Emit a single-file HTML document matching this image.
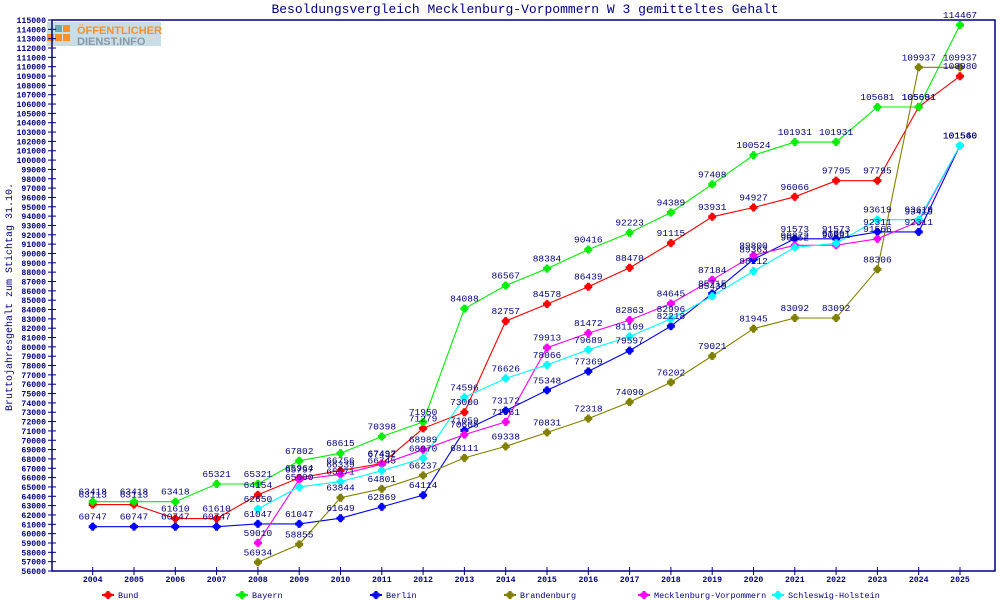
<!DOCTYPE html>
<html><head><meta charset="utf-8"><style>
body{margin:0;background:#fff;}
svg{display:block;font-family:"Liberation Mono",monospace;}
</style></head><body>
<svg id="chart" width="1000" height="600" viewBox="0 0 1000 600">
<text x="525" y="13" text-anchor="middle" font-size="13" fill="#000080">Besoldungsvergleich Mecklenburg-Vorpommern W 3 gemitteltes Gehalt</text>
<text transform="translate(12,297) rotate(-90)" text-anchor="middle" font-size="10" fill="#000080">Bruttojahresgehalt zum Stichtag 31.10.</text>
<g>
<rect x="47" y="22" width="114" height="24" fill="#c9dde6"/>
<rect x="55" y="25" width="7" height="7" fill="#6aa8b8"/><rect x="63" y="25" width="7" height="7" fill="#f7902a"/>
<rect x="47" y="34" width="7" height="7" fill="#f7902a"/><rect x="55" y="34" width="7" height="7" fill="#f7902a"/><rect x="63" y="34" width="7" height="7" fill="#f7902a"/>
<text x="77" y="34" font-family="Liberation Sans,sans-serif" font-weight="bold" font-size="11" fill="#f7902a">ÖFFENTLICHER</text>
<text x="77" y="45" font-family="Liberation Sans,sans-serif" font-weight="bold" font-size="11" fill="#8a9aa5">DIENST.INFO</text>
</g>
<rect x="52" y="20" width="943" height="551" fill="none" stroke="#000080" stroke-width="1.5"/>
<g id="yaxis"></g><g id="xaxis"></g><g id="lines"></g><g id="labels"></g><g id="legend"></g>
</svg>
<script>
const years=[2004,2005,2006,2007,2008,2009,2010,2011,2012,2013,2014,2015,2016,2017,2018,2019,2020,2021,2022,2023,2024,2025];
const seriesNames=["Bund","Bayern","Berlin","Brandenburg","Mecklenburg-Vorpommern","Schleswig-Holstein"];
const seriesColors=["#ff0000","#00ee00","#0000ff","#808000","#ff00ff","#00ffff"];
const bund=[63113,63113,61610,61610,64154,65964,66756,67497,71279,73000,82757,84578,86439,88470,91115,93931,94927,96066,97795,97795,105691,108980];
const bayern=[63418,63418,63418,65321,65321,67802,68615,70398,71950,84088,86567,88384,90416,92223,94389,97408,100524,101931,101931,105681,105681,114467];
const berlin=[60747,60747,60747,60747,61047,61047,61649,62869,64114,71059,73172,75348,77369,79597,82218,85715,89363,91573,91573,92311,92311,101560];
const brandenburg=[null,null,null,null,56934,58855,63844,64801,66237,68111,69338,70831,72318,74090,76202,79021,81945,83092,83092,88306,109937,109937];
const mv=[null,null,null,null,59010,65797,66339,67432,68989,70605,71961,79913,81472,82863,84645,87184,89800,90872,90891,91566,93419,101540];
const sh=[null,null,null,null,62650,65000,65571,66745,68070,74596,76626,78066,79689,81109,82996,85430,88112,90652,91091,93619,93619,101560];
const allSeries=[bund,bayern,berlin,brandenburg,mv,sh];
const yMin=56000,yMax=115000,yStep=1000;
const NS="http://www.w3.org/2000/svg";
function X(i){return 92.7+i*41.3;}
function Y(v){return 571-(v-yMin)*551/(yMax-yMin);}
function mk(tag,attrs,parent){const e=document.createElementNS(NS,tag);for(const k in attrs)e.setAttribute(k,attrs[k]);parent.appendChild(e);return e;}
const yax=document.getElementById('yaxis');
for(let v=yMin;v<=yMax;v+=yStep){
 const t=mk('line',{x1:48,x2:56,y1:Y(v),y2:Y(v),stroke:'#000080'},yax);
 
 
 const l=mk('text',{x:46,y:Y(v)+3,'text-anchor':'end','font-size':'8.2','font-weight':'bold',fill:'#000080'},yax);
 l.textContent=v;
 
 
}
const xax=document.getElementById('xaxis');
years.forEach((yr,i)=>{
 const t=mk('line',{x1:X(i),x2:X(i),y1:567,y2:575,stroke:'#000080'},xax);
 
 
 const l=mk('text',{x:X(i),y:582,'text-anchor':'middle','font-size':'8.2','font-weight':'bold',fill:'#000080'},xax);
 l.textContent=yr;
 
 
});
function marker(cx,cy,c,parent){
 const g=mk('g',{},parent);
 mk('rect',{x:cx-4,y:cy-1.5,width:8,height:3,fill:c},g);
 mk('rect',{x:cx-1.5,y:cy-4,width:3,height:8,fill:c},g);
 mk('rect',{x:cx-2.6,y:cy-2.6,width:5.2,height:5.2,fill:c},g);
 return g;
}
const lg=document.getElementById('lines'),lb=document.getElementById('labels');
allSeries.forEach((s,si)=>{
 const c=seriesColors[si];
 let pts=[];
 s.forEach((v,i)=>{if(v!=null)pts.push(X(i).toFixed(1)+','+Y(v).toFixed(1));});
 const pl=mk('polyline',{points:pts.join(' '),fill:'none',stroke:c,'stroke-width':1.1},lg);
 
 
 s.forEach((v,i)=>{
  if(v==null)return;
  const m=marker(X(i),Y(v),c,lg);
  
  
  const t=mk('text',{x:X(i),y:Y(v)-7,'text-anchor':'middle','font-size':'9.5',fill:'#000080'},lb);
  t.textContent=v;
  
  
 });
});
const leg=document.getElementById('legend');
seriesNames.forEach((n,i)=>{
 const x=108+i*134;
 const g=mk('g',{},leg);
 
 
 mk('line',{x1:x-6,x2:x+6,y1:595,y2:595,stroke:seriesColors[i],'stroke-width':2},g);
 marker(x,595,seriesColors[i],g);
 const t=mk('text',{x:x+10,y:598,'font-size':'8.5',fill:'#000080'},g);
 t.textContent=n;
});
</script>
</body></html>
